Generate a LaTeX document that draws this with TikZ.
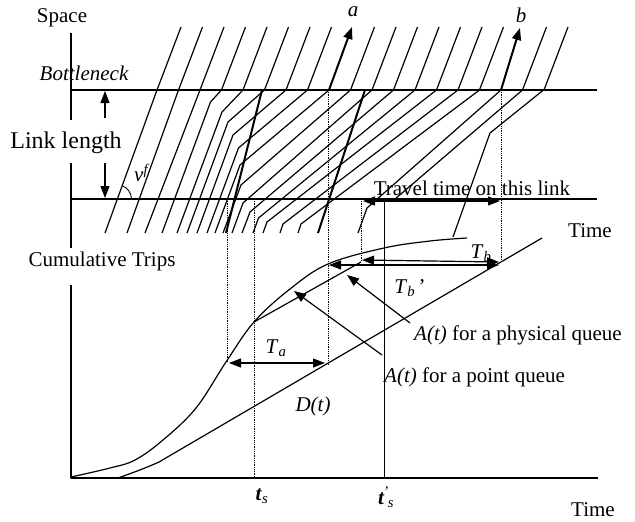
\documentclass[tikz,border=0pt]{standalone}
\usepackage{fontspec}
\setmainfont{Liberation Serif}
\usetikzlibrary{arrows.meta}
\begin{document}
\begin{tikzpicture}[x=1pt,y=-1pt,
  ln/.style={line width=1.2pt, line join=round},
  thk/.style={line width=2pt},
  vdot/.style={line width=0.8pt, densely dotted},
  tip/.style={-{Triangle[length=12pt,width=9pt]}},
  dtip/.style={{Triangle[length=12pt,width=9pt]}-{Triangle[length=12pt,width=9pt]}},
  lab/.style={font=\fontsize{21}{23}\selectfont, inner sep=0pt},
  ilab/.style={font=\fontsize{21}{23}\selectfont\itshape, inner sep=0pt},
]
\useasboundingbox (0,0) rectangle (635,522);
\fill[white] (0,0) rectangle (635,522);

% ---------- time-space diagram ----------
\draw[ln] (71,33) -- (71,120);
\draw[ln] (71,163) -- (71,248);
\draw[line width=1.5pt] (71,90) coordinate (bn0) -- (597,90) coordinate (bn1);
\draw[ln] (71,199) coordinate (ls0) -- (597,199) coordinate (ls1);

\draw[ln,tip] (105,118) -- (105,91);
\draw[ln,tip] (105,163) -- (105,198);

% free-flow segments above the bottleneck
\foreach \k in {0,...,18}{
  \ifnum\k=8\relax\else\ifnum\k=16\relax\else
    \draw[ln] ({157+21.5*\k},90) -- ({181+21.5*\k},27);
  \fi\fi
}
% trajectories through the link
\draw[ln] (105,233) -- (157,90);
\draw[ln] (127,233) -- (178.5,90);
\draw[ln] (145,233) -- (200,90);
\draw[ln] (162,233) -- (210.5,102) -- (221.5,90);
\draw[ln] (177,233) -- (222,112) -- (243,90);
\draw[ln] (187,233) -- (228,122) -- (264.5,90);
\draw[ln] (197,233) -- (233,135) -- (286,90);
\draw[ln] (207,233) -- (238.5,148) -- (307.5,90);
\draw[ln] (215,233) -- (240,165) -- (329,90);
\draw[ln] (223,233) -- (241,185) -- (350.5,90);
\draw[ln] (232,233) -- (243,203) -- (372,90);
\draw[ln] (242,233) -- (250,212) -- (393.5,90);
\draw[ln] (253,233) -- (258.5,218) -- (415,90);
\draw[ln] (263,233) -- (267,222) -- (436.5,90);
\draw[ln] (280,233) -- (283,224) -- (458,90);
\draw[ln] (298,233) -- (301,224) -- (479.5,90);
\draw[ln] (358,233) -- (367,208) -- (501,90);
\draw[ln] (395,199) -- (522.5,90);
\draw[ln] (453,237) -- (490,133) -- (543.5,90);

% thick free-flow lines
\draw[thk] (226,233) -- (262,90);
\draw[thk] (318,233) -- (365,90);

% vehicles a and b
\draw[thk,tip] (329,90) -- (352,27);
\draw[thk,tip] (501,90) -- (520,28);
\node[ilab] (la) at (353,12) {a};
\node[ilab] (lb) at (521,15) {b};

% angle v^f
\draw[line width=0.9pt] (131.5,199) arc[start angle=0, end angle=-70, radius=14];
\node[lab] (vf) at (142,173) {\textit{v}\textsuperscript{\textit{f}}};

% travel time arrow
\draw[ln,dtip] (363,201) -- (500,201);
\node[lab] (tt) at (472,188) {Travel time on this link};

% labels
\node[lab] (space) at (62,18) {Space};
\node[ilab] (bneck) at (84,73) {Bottleneck};
\node[lab,font=\fontsize{24}{26}\selectfont] (ll) at (66,143) {Link length};
\node[lab] (time1) at (590,231) {Time};
\node[lab] (cum) at (102,261) {Cumulative Trips};

% ---------- cumulative diagram ----------
\draw[ln] (71,285) -- (71,478) -- (598,478);

% vertical guide lines
\draw[vdot] (227,199) -- (227,362);
\draw[vdot] (254,199) -- (254,478);
\draw[vdot] (328,90) -- (328,364);
\draw[vdot] (361,199) -- (361,262);
\draw[line width=0.8pt] (384,199) -- (384,478);
\draw[vdot] (501,90) -- (501,262);

% A(t) curve
\draw[ln] plot[smooth,tension=0.6] coordinates {(71,477) (110,468) (135,460) (163,440) (196,408) (226,362) (254,322) (290,289) (328,264) (384,248) (430,241) (467,238)};
% inner straight line
\draw[ln] (254,322) -- (361,262);
% D(t)
\draw[ln] (118,478) .. controls (135,472) and (148,467) .. (159,462) -- (542,238);

% arrows between curves
\draw[ln,dtip] (229,363) -- (325,363);
\draw[ln,dtip] (362,260) -- (499,262);
\draw[ln,dtip] (329,265) -- (499,265);
\draw[ln,tip] (410,323) -- (347,275);
\draw[ln,tip] (382,355) -- (294,291);

\node[lab] (ta) at (276,348) {\textit{T}\textsubscript{\textit{a}}};
\node[lab] (tb) at (481,253) {\textit{T}\textsubscript{\textit{b}}};
\node[lab] (tbp) at (410,288) {\textit{T}\textsubscript{\textit{b}}\,'};
\node[lab,anchor=west] (phys) at (414,335) {\textit{A(t)} for a physical queue};
\node[lab,anchor=west] (pnt) at (384,377) {\textit{A(t)} for a point queue};
\node[lab] (dt) at (313,406) {\textit{D(t)}};
\node[lab] (ts) at (262,496) {\textit{\textbf{t}}\textsubscript{\textit{s}}};
\node[lab] (tsp) at (386,497) {\textit{\textbf{t}}\textsuperscript{'}\kern-2pt\textsubscript{\textit{s}}};
\node[lab] (time2) at (593,510) {Time};
\end{tikzpicture}
\end{document}
